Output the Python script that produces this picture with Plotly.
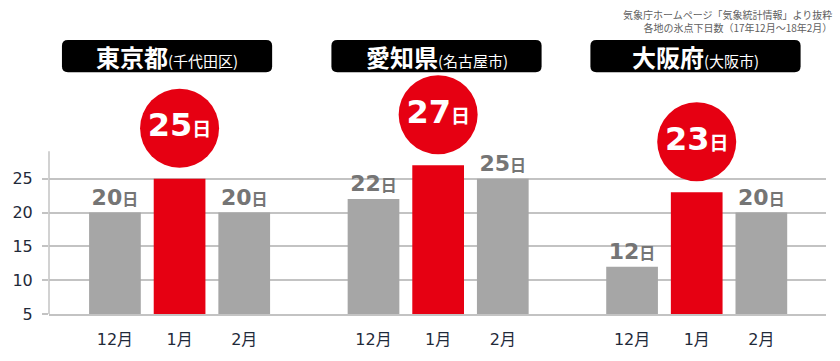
import plotly.graph_objects as go

# ---- data ----
cities = ["東京都", "愛知県", "大阪府"]
city_sub = ["(千代田区)", "(名古屋市)", "(大阪市)"]
months = ["12月", "1月", "2月"]
tokyo = [20, 25, 20]
aichi = [22, 27, 25]
osaka = [12, 23, 20]
values = [tokyo, aichi, osaka]
source_lines = ["気象庁ホームページ「気象統計情報」より抜粋",
                "各地の氷点下日数（17年12月～18年2月）"]

# ---- style ----
GRAY = "#a6a6a6"
RED = "#e60012"
LABEL_GRAY = "#757575"
GRID = "#c3c3c3"
TICK_COL = "#1f2a3a"
FONT = "DejaVu Sans, Noto Sans CJK JP"
JFONT = "Noto Sans CJK JP"
GROUP_STEP = 4          # slots between groups
CIRCLE_OFFSET = 7.45    # circle centre above red bar (data units)
Y_MIN, Y_AXIS_TOP = 5, 29.04

# plot area in pixels
W, H = 840, 361
PL, PW = 46, 780
PT, PB = 80, 319.5
PH = PB - PT
PX_PER_UNIT = 6.925
Y_MAX = Y_MIN + PH / PX_PER_UNIT


def px_x(x):
    return (x - PL) / PW


def px_y(y):
    return (PB - y) / PH


xs, ys, cols, texts, ticktext = [], [], [], [], []
circ_x, circ_y, circ_t = [], [], []
for g, vals in enumerate(values):
    for m, v in enumerate(vals):
        x = g * GROUP_STEP + m
        xs.append(x)
        ys.append(v)
        ticktext.append(months[m])
        if m == 1:
            cols.append(RED)
            texts.append("")
            circ_x.append(x)
            circ_y.append(v + CIRCLE_OFFSET)
            circ_t.append(f"<b>{v}<span style='font-size:19px'>日</span></b>")
        else:
            cols.append(GRAY)
            texts.append(f"<b>{v}<span style='font-size:16px'>日</span></b>")

fig = go.Figure()
fig.add_trace(go.Bar(
    x=xs, y=ys, width=0.8, marker=dict(color=cols, line=dict(width=0)),
    text=texts, textposition="outside", cliponaxis=False,
    textfont=dict(size=22, color=LABEL_GRAY, family=FONT),
    hoverinfo="skip"))
fig.add_trace(go.Scatter(
    x=circ_x, y=circ_y, mode="markers+text", cliponaxis=False,
    marker=dict(size=79, color=RED, line=dict(width=0)),
    text=circ_t, textposition="middle center",
    textfont=dict(size=32, color="white", family=FONT),
    hoverinfo="skip"))

shapes = []
annotations = []
# vertical axis line (only up to the chart body)
shapes.append(dict(type="line", xref="paper", yref="y", x0=0, x1=0,
                   y0=Y_MIN, y1=Y_AXIS_TOP, line=dict(color=GRID, width=1.5),
                   layer="above"))

# header boxes (rounded rectangles)
HEADER_CX_PX = [164.5, 435, 695]
HEADER_W, HEADER_TOP, HEADER_BOT, R = 211, 39, 72, 6
for i, cx in enumerate(HEADER_CX_PX):
    x0, x1 = cx - HEADER_W / 2, cx + HEADER_W / 2
    y0, y1 = HEADER_TOP, HEADER_BOT
    pts = lambda x, y: f"{px_x(x):.5f},{px_y(y):.5f}"
    path = (f"M {pts(x0 + R, y0)} L {pts(x1 - R, y0)} Q {pts(x1, y0)} {pts(x1, y0 + R)} "
            f"L {pts(x1, y1 - R)} Q {pts(x1, y1)} {pts(x1 - R, y1)} "
            f"L {pts(x0 + R, y1)} Q {pts(x0, y1)} {pts(x0, y1 - R)} "
            f"L {pts(x0, y0 + R)} Q {pts(x0, y0)} {pts(x0 + R, y0)} Z")
    shapes.append(dict(type="path", xref="paper", yref="paper", path=path,
                       fillcolor="black", line=dict(width=0), layer="above"))
    annotations.append(dict(
        xref="paper", yref="paper", x=px_x(cx), y=px_y((y0 + y1) / 2),
        xanchor="center", yanchor="middle", showarrow=False,
        text=f"<b>{cities[i]}</b><span style='font-size:15px'>{city_sub[i]}</span>",
        font=dict(size=24, color="white", family=JFONT)))

# source note (two lines, one text block)
annotations.append(dict(xref="paper", yref="paper", x=px_x(834), y=px_y(19.5),
                        xanchor="right", yanchor="middle", align="right",
                        showarrow=False,
                        text="<br>".join(source_lines),
                        font=dict(size=10, color="#606060", family=JFONT)))

fig.update_layout(
    width=W, height=H,
    margin=dict(l=PL, r=W - PL - PW, t=PT, b=H - PB, pad=0),
    paper_bgcolor="white", plot_bgcolor="white",
    showlegend=False, shapes=shapes, annotations=annotations,
    xaxis=dict(range=[-1.02, 11.0], tickvals=xs, ticktext=ticktext,
               showgrid=False, zeroline=False, showline=True,
               linecolor=GRID, linewidth=1.5, ticks="",
               ticklabelstandoff=10,
               tickfont=dict(size=16, color=TICK_COL, family=FONT)),
    yaxis=dict(range=[Y_MIN, Y_MAX], tickvals=[5, 10, 15, 20, 25],
               showgrid=True, gridcolor=GRID, gridwidth=1.5,
               zeroline=False, showline=False,
               ticks="outside", ticklen=6, tickcolor=GRID, tickwidth=1.5,
               ticklabelstandoff=6,
               tickfont=dict(size=16, color=TICK_COL, family=FONT)),
)

fig.write_html("out.html")
